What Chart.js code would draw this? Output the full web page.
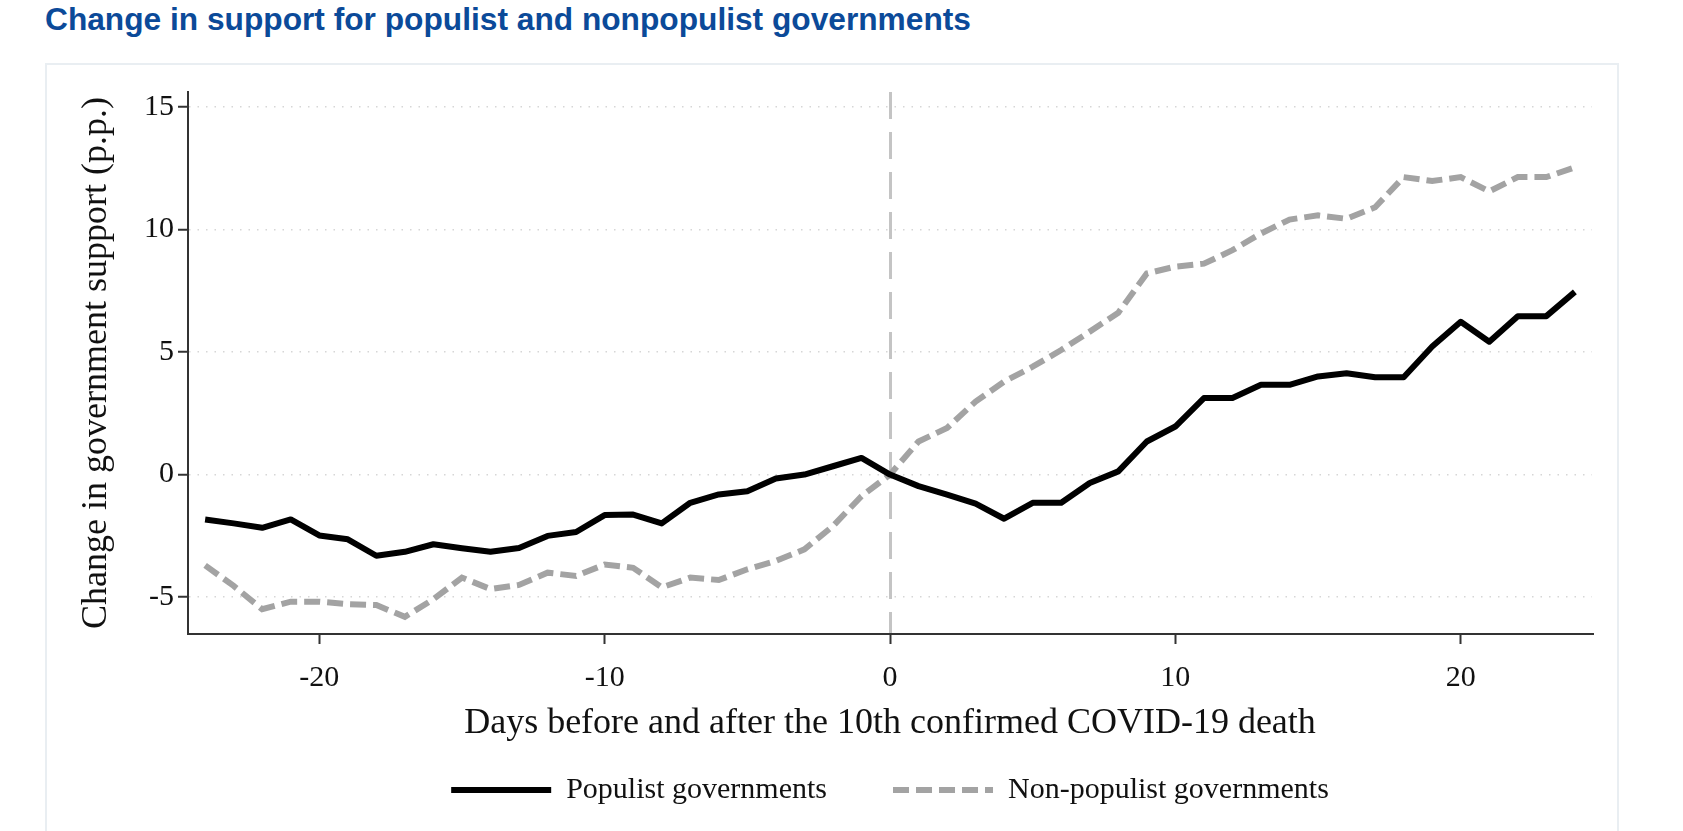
<!DOCTYPE html>
<html>
<head>
<meta charset="utf-8">
<script src="https://cdn.jsdelivr.net/npm/chart.js@4.4.1/dist/chart.umd.min.js"></script>
<style>
    html, body { margin: 0; padding: 0; background: #ffffff; }
    body { width: 1683px; height: 831px; position: relative; overflow: hidden; }
    .fig-title {
        position: absolute; left: 45px; top: 4px;
        font-family: "Liberation Sans", Arial, sans-serif; font-weight: bold;
        font-size: 31.7px; line-height: 31px; color: #0b4a99; white-space: nowrap;
    }
    .card {
        position: absolute; left: 45px; top: 63px; width: 1574px; height: 800px;
        border: 2px solid #e9eef2; box-sizing: border-box;
    }
    #chart { position: absolute; left: 45px; top: 63px; }
</style>
</head>
<body>
<div class="fig-title">Change in support for populist and nonpopulist governments</div>
<div class="card"></div>
<canvas id="chart" width="1576" height="768"></canvas>
<script>
// days relative to the 10th confirmed death
const days = [-24, -23, -22, -21, -20, -19, -18, -17, -16, -15, -14, -13, -12, -11, -10,
    -9, -8, -7, -6, -5, -4, -3, -2, -1, 0,
    1, 2, 3, 4, 5, 6, 7, 8, 9, 10, 11, 12, 13, 14,
    15, 16, 17, 18, 19, 20, 21, 22, 23, 24];

const populist = [-1.83, -1.99, -2.17, -1.83, -2.48, -2.64, -3.31, -3.15, -2.84, -3.0, -3.15, -2.99, -2.5, -2.34, -1.65,
    -1.63, -1.99, -1.15, -0.81, -0.68, -0.16, 0.0, 0.34, 0.68, 0.0,
    -0.47, -0.82, -1.18, -1.8, -1.15, -1.15, -0.34, 0.13, 1.35, 1.96, 3.12, 3.12, 3.66, 3.66,
    4.0, 4.13, 3.97, 3.97, 5.22, 6.23, 5.42, 6.46, 6.46, 7.45];

const nonPopulist = [-3.7, -4.54, -5.49, -5.18, -5.18, -5.28, -5.32, -5.8, -5.08, -4.2, -4.67, -4.5, -4.0, -4.13, -3.67,
    -3.8, -4.6, -4.2, -4.3, -3.86, -3.52, -3.05, -2.1, -0.88, 0.0,
    1.35, 1.9, 2.98, 3.79, 4.4, 5.08, 5.83, 6.6, 8.2, 8.48, 8.6, 9.15, 9.83, 10.4,
    10.57, 10.43, 10.9, 12.13, 11.97, 12.13, 11.55, 12.13, 12.13, 12.53];

const xTicks = [-20, -10, 0, 10, 20];
const yTicks = [-5, 0, 5, 10, 15];

const serif = 'Liberation Serif';
const ink = '#111111';
const axisColor = '#333333';

function toPoints(values) {
    return days.map((d, i) => ({ x: d, y: values[i] }));
}

const ctx = document.getElementById('chart').getContext('2d');

new Chart(ctx, {
    type: 'line',
    data: {
        datasets: [{
            label: 'Populist governments',
            data: toPoints(populist),
            borderColor: '#000000',
            borderWidth: 6,
            borderJoinStyle: 'round',
            pointRadius: 0,
            tension: 0
        }, {
            label: 'Non-populist governments',
            data: toPoints(nonPopulist),
            borderColor: '#a3a3a3',
            borderWidth: 6,
            borderDash: [16, 7],
            pointRadius: 0,
            tension: 0
        }]
    },
    options: {
        responsive: false,
        animation: false,
        layout: {
            padding: { top: 29, right: 29, left: 0, bottom: 26 }
        },
        plugins: {
            tooltip: { enabled: false },
            legend: {
                position: 'bottom',
                fullSize: false,
                maxHeight: 96,
                labels: {
                    usePointStyle: true,
                    pointStyle: 'line',
                    pointStyleWidth: 100,
                    padding: 66,
                    color: ink,
                    font: { family: serif, size: 30 },
                    // point-style legend items lose the dataset dash, put it back
                    generateLabels: function(chart) {
                        const items = Chart.defaults.plugins.legend.labels.generateLabels(chart);
                        items.forEach(item => {
                            const ds = chart.data.datasets[item.datasetIndex];
                            item.lineDash = ds.borderDash || [];
                            item.lineWidth = ds.borderWidth;
                            item.strokeStyle = ds.borderColor;
                            item.lineCap = 'butt';
                        });
                        return items;
                    }
                }
            }
        },
        scales: {
            x: {
                type: 'linear',
                min: -24.6,
                max: 24.6,
                afterBuildTicks: function(scale) {
                    scale.ticks = xTicks.map(v => ({ value: v }));
                },
                afterFit: function(scale) {
                    scale.height = 75;
                },
                border: { display: true, color: axisColor, width: 2, dash: [27, 13] },
                grid: {
                    color: function(c) {
                        return c.tick && c.tick.value === 0 ? '#c4c4c4' : 'rgba(0,0,0,0)';
                    },
                    lineWidth: 3,
                    tickColor: axisColor,
                    tickWidth: 2,
                    tickLength: 10,
                    tickBorderDash: []
                },
                ticks: {
                    color: ink,
                    padding: 16,
                    maxRotation: 0,
                    font: { family: serif, size: 30 }
                },
                title: {
                    display: true,
                    text: 'Days before and after the 10th confirmed COVID-19 death',
                    color: ink,
                    font: { family: serif, size: 36 },
                    padding: { top: 0, bottom: -36 }
                }
            },
            y: {
                min: -6.5,
                max: 15.6,
                afterBuildTicks: function(scale) {
                    scale.ticks = yTicks.map(v => ({ value: v }));
                },
                afterFit: function(scale) {
                    scale.width = 143;
                },
                border: { display: true, color: axisColor, width: 2, dash: [1.5, 7] },
                grid: {
                    color: '#d6d6d6',
                    lineWidth: 1.5,
                    tickColor: axisColor,
                    tickWidth: 2,
                    tickLength: 10,
                    tickBorderDash: []
                },
                ticks: {
                    color: ink,
                    padding: 4,
                    font: { family: serif, size: 30 }
                },
                title: {
                    display: true,
                    text: 'Change in government support (p.p.)',
                    color: ink,
                    font: { family: serif, size: 36 },
                    padding: { top: 30, bottom: 0 }
                }
            }
        }
    }
});
</script>
</body>
</html>
